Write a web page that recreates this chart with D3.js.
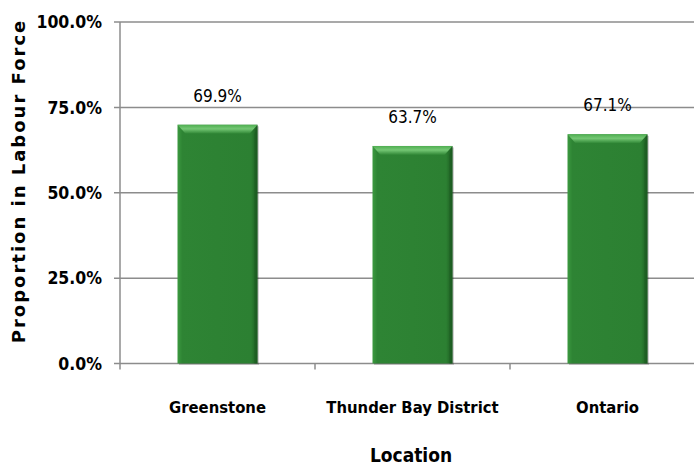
<!DOCTYPE html>
<html>
<head>
<meta charset="utf-8">
<script src="https://cdn.jsdelivr.net/npm/d3@7"></script>
<style>
  body { margin: 0; background: #fff; }
</style>
</head>
<body>
<div id="chart"></div>
<script>
const locations = ["Greenstone", "Thunder Bay District", "Ontario"];
const participation = [0.699, 0.637, 0.671];
const yTicks = [0, 0.25, 0.5, 0.75, 1];

const width = 694;
const height = 466;
const marginLeft = 120;
const marginTop = 22;
const plotBottom = 363.5;
const bandWidth = 195;

const narrow = "'Liberation Sans Narrow', 'DejaVu Sans Condensed', sans-serif";

const x = d3.scaleBand()
    .domain(locations)
    .range([marginLeft, marginLeft + bandWidth * locations.length])
    .paddingInner(0)
    .paddingOuter(0);

const y = d3.scaleLinear()
    .domain([0, 1])
    .range([plotBottom, marginTop]);

const barW = 80;

const svg = d3.select("#chart").append("svg")
    .attr("width", width)
    .attr("height", height)
    .attr("viewBox", [0, 0, width, height]);

const defs = svg.append("defs");
const topGrad = defs.append("linearGradient")
    .attr("id", "topBevel").attr("x1", 0).attr("y1", 0).attr("x2", 0).attr("y2", 1);
topGrad.append("stop").attr("offset", "0%").attr("stop-color", "#4fae51");
topGrad.append("stop").attr("offset", "45%").attr("stop-color", "#74c774");
topGrad.append("stop").attr("offset", "100%").attr("stop-color", "#2e8534");

const sideGrad = defs.append("linearGradient")
    .attr("id", "sideShade").attr("x1", 0).attr("y1", 0).attr("x2", 1).attr("y2", 0);
sideGrad.append("stop").attr("offset", "0%").attr("stop-color", "#3c9a40");
sideGrad.append("stop").attr("offset", "6%").attr("stop-color", "#2e8434");
sideGrad.append("stop").attr("offset", "92%").attr("stop-color", "#2c8032");
sideGrad.append("stop").attr("offset", "100%").attr("stop-color", "#1c5a20");

// gridlines
svg.append("g")
    .selectAll("line")
    .data(yTicks)
    .join("line")
      .attr("x1", marginLeft - 6)
      .attr("x2", width)
      .attr("y1", d => y(d))
      .attr("y2", d => y(d))
      .attr("stroke", "#8c8c8c")
      .attr("stroke-width", 1.5);

// y axis line
svg.append("line")
    .attr("x1", marginLeft).attr("x2", marginLeft)
    .attr("y1", y(1)).attr("y2", plotBottom + 6)
    .attr("stroke", "#8c8c8c")
    .attr("stroke-width", 1.5);

// x ticks (category boundaries)
svg.append("g")
    .selectAll("line")
    .data(locations)
    .join("line")
      .attr("x1", d => x(d) + x.bandwidth())
      .attr("x2", d => x(d) + x.bandwidth())
      .attr("y1", plotBottom)
      .attr("y2", plotBottom + 6)
      .attr("stroke", "#8c8c8c")
      .attr("stroke-width", 1.5);

// y tick labels
svg.append("g")
    .attr("font-family", "'DejaVu Sans Condensed', sans-serif")
    .attr("font-weight", "bold")
    .attr("font-size", 17.5)
    .attr("text-anchor", "end")
    .selectAll("text")
    .data(yTicks)
    .join("text")
      .attr("x", 102)
      .attr("y", d => y(d))
      .attr("dy", "0.35em")
      .attr("fill", "#000")
      .text(d => d3.format(".1%")(d));

// bars
const data = locations.map((loc, i) => ({ loc, v: participation[i] }));

const bars = svg.append("g")
    .selectAll("g")
    .data(data)
    .join("g")
      .attr("transform", d => `translate(${x(d.loc) + (x.bandwidth() - barW) / 2},${y(d.v)})`);

bars.append("rect")
    .attr("x", 1.5).attr("y", 1.5)
    .attr("width", barW).attr("height", d => plotBottom - y(d.v))
    .attr("fill", "#000").attr("opacity", 0.18);

bars.append("rect")
    .attr("width", barW)
    .attr("height", d => plotBottom - y(d.v))
    .attr("fill", "url(#sideShade)");

bars.append("path")
    .attr("d", `M0,0 H${barW} L${barW - 8},9 H8 Z`)
    .attr("fill", "url(#topBevel)");

bars.append("path")
    .attr("d", d => `M${barW},0 V${plotBottom - y(d.v)} L${barW - 3},${plotBottom - y(d.v)} V9 Z`)
    .attr("fill", "#1d5b21").attr("opacity", 0.6);

// value labels
svg.append("g")
    .attr("font-family", narrow)
    .attr("font-size", 17)
    .attr("text-anchor", "middle")
    .selectAll("text")
    .data(data)
    .join("text")
      .attr("x", d => x(d.loc) + x.bandwidth() / 2)
      .attr("y", d => y(d.v) - 23)
      .attr("fill", "#000")
      .text(d => d3.format(".1%")(d.v));

// category labels
svg.append("g")
    .attr("font-family", "'DejaVu Sans Condensed', sans-serif")
    .attr("font-weight", "bold")
    .attr("font-size", 16.5)
    .attr("text-anchor", "middle")
    .selectAll("text")
    .data(locations)
    .join("text")
      .attr("x", d => x(d) + x.bandwidth() / 2)
      .attr("y", 413)
      .attr("fill", "#000")
      .text(d => d);

// axis titles
svg.append("text")
    .attr("x", 411)
    .attr("y", 462)
    .attr("text-anchor", "middle")
    .attr("font-family", "'DejaVu Sans Condensed', sans-serif")
    .attr("font-weight", "bold")
    .attr("font-size", 19)
    .text("Location");

svg.append("text")
    .attr("transform", "translate(25,181) rotate(-90)")
    .attr("text-anchor", "middle")
    .attr("font-family", "'DejaVu Sans', sans-serif")
    .attr("font-weight", "bold")
    .attr("font-size", 18)
    .attr("letter-spacing", 2)
    .text("Proportion in Labour Force");
</script>
</body>
</html>
